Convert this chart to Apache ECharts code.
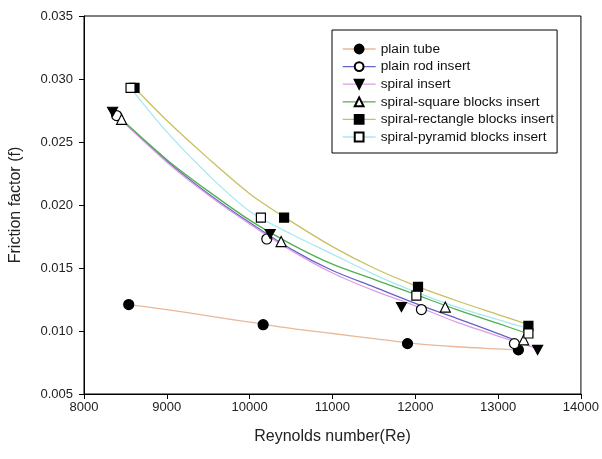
<!DOCTYPE html>
<html>
<head>
<meta charset="utf-8">
<script src="https://cdn.jsdelivr.net/npm/echarts@6/dist/echarts.min.js"></script>
<style>html,body{margin:0;padding:0;background:#fff;}#c{width:602px;height:459px;}</style>
</head>
<body>
<div id="c"></div>
<script>
// Measured data points
const seriesNames = ['plain tube', 'plain rod insert', 'spiral insert', 'spiral-square blocks insert', 'spiral-rectangle blocks insert', 'spiral-pyramid blocks insert'];
const plainTubeRe = [8540, 10163, 11906, 13245];
const plainTubeF = [0.0121, 0.0105, 0.0090, 0.0085];
const plainRodRe = [8394, 10207, 12074, 13197];
const plainRodF = [0.0271, 0.0173, 0.0117, 0.0090];
const spiralRe = [8345, 10248, 11833, 13477];
const spiralF = [0.0274, 0.0177, 0.0119, 0.0085];
const squareRe = [8454, 10380, 12362, 13309];
const squareF = [0.0268, 0.0171, 0.0119, 0.0093];
const rectRe = [8610, 10416, 12033, 13366];
const rectF = [0.0293, 0.0190, 0.0135, 0.0104];
const pyramidRe = [8562, 10136, 12013, 13366];
const pyramidF = [0.0293, 0.0190, 0.0128, 0.0098];

// Fitted curves
const plainTubeFitRe = [8540, 9000, 9500, 10000, 10500, 11000, 11500, 12000, 12500, 13000, 13245];
const plainTubeFitF = [0.0121, 0.0117, 0.0112, 0.0107, 0.0102, 0.0098, 0.0094, 0.0090, 0.00875, 0.00858, 0.0085];
const plainRodFitRe = [8394, 9000, 9500, 10000, 10500, 11000, 11500, 12000, 12500, 13000, 13197];
const plainRodFitF = [0.0271, 0.0235, 0.0209, 0.0186, 0.0165, 0.0148, 0.0135, 0.0122, 0.0110, 0.0098, 0.0093];
const spiralFitRe = [8345, 9000, 9500, 10000, 10500, 11000, 11500, 12000, 12500, 13000, 13477];
const spiralFitF = [0.0274, 0.0234, 0.0208, 0.0185, 0.0164, 0.0146, 0.0132, 0.0120, 0.0107, 0.0096, 0.0086];
const squareFitRe = [8454, 9000, 9500, 10000, 10500, 11000, 11500, 12000, 12500, 13000, 13309];
const squareFitF = [0.0268, 0.0236, 0.0211, 0.0188, 0.0169, 0.0153, 0.0141, 0.0129, 0.0117, 0.0106, 0.0099];
const rectFitRe = [8610, 9000, 9500, 10000, 10500, 11000, 11500, 12000, 12500, 13000, 13366];
const rectFitF = [0.0293, 0.0267, 0.0237, 0.0209, 0.0187, 0.0167, 0.0150, 0.0136, 0.0124, 0.0113, 0.0105];
const pyramidFitRe = [8562, 9000, 9500, 10000, 10500, 11000, 11500, 12000, 12500, 13000, 13366];
const pyramidFitF = [0.0293, 0.0258, 0.0224, 0.0195, 0.0177, 0.0161, 0.0145, 0.0131, 0.0119, 0.0109, 0.0102];

const xTicks = [8000, 9000, 10000, 11000, 12000, 13000, 14000];
const yTicks = [0.005, 0.010, 0.015, 0.020, 0.025, 0.030, 0.035];

const lineColors = ['#e8b898', '#6464c4', '#dc9ee6', '#50b050', '#c8c060', '#a8e8f0'];
const symbols = ['circle', 'circle', 'path://M0,0 L10,0 L5,9 Z', 'triangle', 'rect', 'rect'];
const fills = ['#000', '#fff', '#000', '#fff', '#000', '#fff'];
const symbolSizes = [10, 10, [10, 9], 10, 9, 9];

const pts = [[plainTubeRe, plainTubeF], [plainRodRe, plainRodF], [spiralRe, spiralF], [squareRe, squareF], [rectRe, rectF], [pyramidRe, pyramidF]];
const fits = [[plainTubeFitRe, plainTubeFitF], [plainRodFitRe, plainRodFitF], [spiralFitRe, spiralFitF], [squareFitRe, squareFitF], [rectFitRe, rectFitF], [pyramidFitRe, pyramidFitF]];
const zip = (a, b) => a.map((v, i) => [v, b[i]]);

const series = [];
fits.forEach((f, i) => {
  series.push({
    name: seriesNames[i] + ' fit', type: 'line', smooth: 0.3, symbol: 'none',
    data: zip(f[0], f[1]), lineStyle: { color: lineColors[i], width: 1.3 }, z: 2, silent: true
  });
});
pts.forEach((p, i) => {
  series.push({
    name: seriesNames[i], type: 'line', data: zip(p[0], p[1]),
    symbol: symbols[i], symbolSize: symbolSizes[i], showSymbol: true,
    lineStyle: { width: 0, opacity: 0, color: lineColors[i] },
    itemStyle: { color: fills[i], borderColor: '#000', borderWidth: 1.2 },
    z: 5
  });
});

const font = 'Liberation Sans, Arial';
const chart = echarts.init(document.getElementById('c'));
chart.setOption({
  animation: false,
  backgroundColor: '#fff',
  grid: { left: 83, right: 20, top: 16, bottom: 65, show: true, borderColor: '#000', borderWidth: 1 },
  legend: {
    data: seriesNames.map((n, i) => ({ name: n, lineStyle: { width: 1.3, opacity: 1, color: lineColors[i] } })),
    orient: 'vertical', left: 332, top: 30, itemWidth: 33, itemHeight: 11, itemGap: 3.6,
    padding: [12, 3, 9, 10], borderColor: '#000', borderWidth: 1, backgroundColor: '#fff',
    textStyle: { fontFamily: font, fontSize: 13.7, color: '#111' }
  },
  xAxis: {
    type: 'value', min: xTicks[0], max: xTicks[xTicks.length - 1], interval: 1000,
    name: 'Reynolds number(Re)', nameLocation: 'middle', nameGap: 35,
    nameTextStyle: { fontFamily: font, fontSize: 16, color: '#222' },
    axisLine: { lineStyle: { color: '#000' } },
    axisTick: { length: 5, lineStyle: { color: '#000' } },
    axisLabel: { fontFamily: font, fontSize: 13, color: '#222', margin: 7, formatter: v => String(v) },
    splitLine: { show: false }
  },
  yAxis: {
    type: 'value', min: yTicks[0], max: yTicks[yTicks.length - 1], interval: 0.005,
    name: 'Friction factor (f)', nameLocation: 'middle', nameGap: 60,
    nameTextStyle: { fontFamily: font, fontSize: 16, color: '#222' },
    axisLine: { lineStyle: { color: '#000' } },
    axisTick: { length: 5, lineStyle: { color: '#000' } },
    axisLabel: { fontFamily: font, fontSize: 13, color: '#222', margin: 11, formatter: v => v.toFixed(3) },
    splitLine: { show: false }
  },
  series: series
});
</script>
</body>
</html>
